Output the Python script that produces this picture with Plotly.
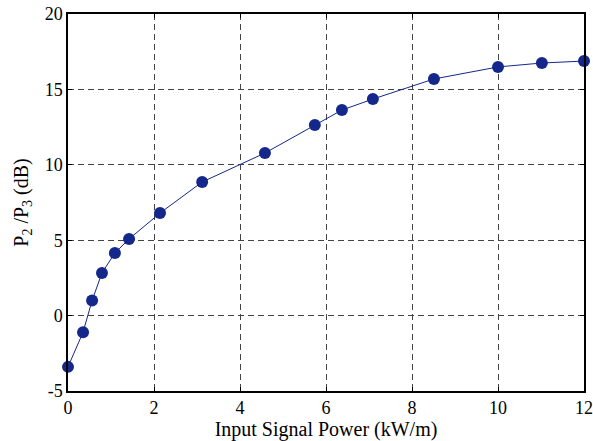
import plotly.graph_objects as go

power_kw_per_m = [0.0, 0.35, 0.56, 0.79, 1.09, 1.42, 2.14, 3.12, 4.58, 5.74, 6.37, 7.09, 8.51, 10.0, 11.02, 12.0]
ratio_db = [-3.4, -1.1, 1.0, 2.83, 4.15, 5.08, 6.8, 8.86, 10.78, 12.64, 13.63, 14.36, 15.69, 16.49, 16.75, 16.88]

x_ticks = [0, 2, 4, 6, 8, 10, 12]
y_ticks = [-5, 0, 5, 10, 15, 20]

blue = "#14288C"
font_family = "Times New Roman, Liberation Serif, serif"

fig = go.Figure()
fig.add_trace(go.Scatter(
    x=power_kw_per_m, y=ratio_db, mode="lines+markers",
    line=dict(color=blue, width=1),
    marker=dict(color=blue, size=12),
    cliponaxis=False, showlegend=False,
))

axis_common = dict(
    showline=True, linecolor="black", linewidth=1.5, mirror="allticks",
    ticks="inside", ticklen=4, tickcolor="black", tickwidth=1,
    showgrid=True, gridcolor="#444444", gridwidth=1, griddash="6px,4px",
    zeroline=False, automargin=False,
    tickfont=dict(family=font_family, size=18, color="black"),
)

fig.update_xaxes(range=[0, 12], tickvals=x_ticks, ticktext=[str(v) for v in x_ticks],
                 title=dict(text="Input Signal Power (kW/m)", font=dict(family=font_family, size=20, color="black"), standoff=2),
                 **axis_common)
fig.update_yaxes(range=[-5, 20], tickvals=y_ticks, ticktext=[str(v) for v in y_ticks],
                 title=dict(text="P<sub>2</sub> /P<sub>3</sub> (dB)", font=dict(family=font_family, size=20, color="black"), standoff=11),
                 **axis_common)

fig.update_layout(
    width=593, height=441,
    margin=dict(l=68, r=9, t=14, b=50),
    paper_bgcolor="white", plot_bgcolor="white",
    font=dict(family=font_family, color="black"),
)

fig.write_html("out.html")
